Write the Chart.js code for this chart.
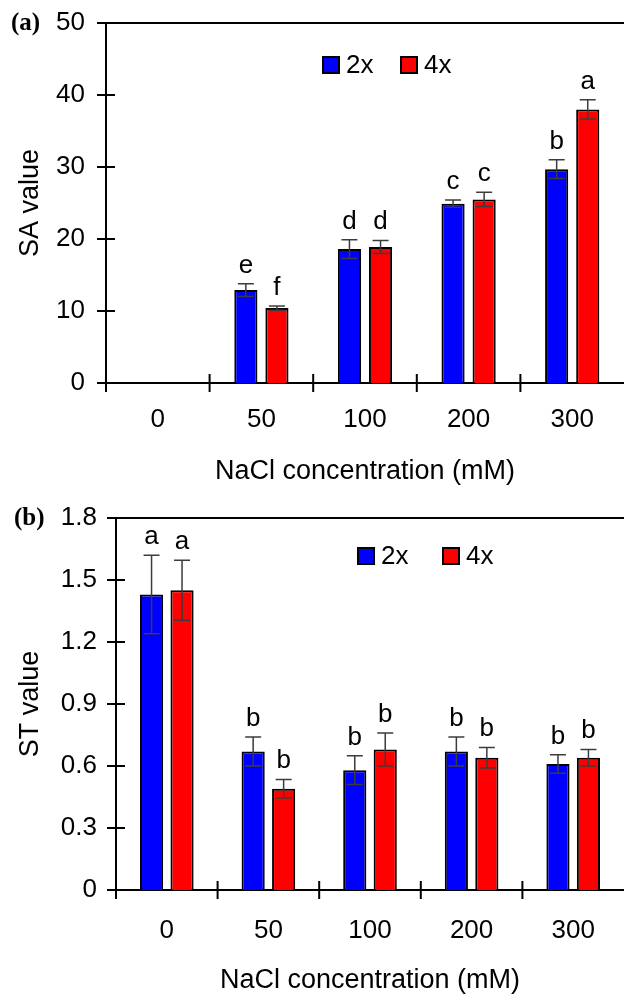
<!DOCTYPE html>
<html>
<head>
<meta charset="utf-8">
<script src="https://cdn.jsdelivr.net/npm/chart.js@4.4.1/dist/chart.umd.min.js"></script>
<style>
    html, body { margin: 0; padding: 0; background: #fff; }
    canvas { display: block; }
</style>
</head>
<body>
<canvas id="chartSA" width="624" height="496"></canvas>
<canvas id="chartST" width="624" height="498"></canvas>
<script>
// NaCl treatments (mM) and ploidy series
const concentrations = ['0', '50', '100', '200', '300'];
const seriesNames = ['2x', '4x'];
const seriesColors = ['#0000ff', '#ff0000'];

// (a) SA value
const saTicks = [0, 10, 20, 30, 40, 50];
const sa2x = [null, 12.9, 18.6, 24.9, 29.7];
const sa2xErr = [null, 0.9, 1.3, 0.5, 1.3];
const sa4x = [null, 10.4, 18.9, 25.5, 38.0];
const sa4xErr = [null, 0.3, 0.9, 1.0, 1.35];
const sa2xLetters = ['', 'e', 'd', 'c', 'b'];
const sa4xLetters = ['', 'f', 'd', 'c', 'a'];

// (b) ST value
const stTicks = [0, 0.3, 0.6, 0.9, 1.2, 1.5, 1.8];
const st2x = [1.43, 0.67, 0.58, 0.67, 0.61];
const st2xErr = [0.19, 0.07, 0.07, 0.07, 0.045];
const st4x = [1.45, 0.49, 0.68, 0.64, 0.64];
const st4xErr = [0.145, 0.045, 0.08, 0.05, 0.04];
const st2xLetters = ['a', 'b', 'b', 'b', 'b'];
const st4xLetters = ['a', 'b', 'b', 'b', 'b'];

Chart.defaults.font.family = "'Liberation Sans', Arial, sans-serif";
Chart.defaults.color = '#000';

// Error bars, letters, crossing ticks, top frame, legend and panel tag
const panelDecor = {
    id: 'panelDecor',
    afterDraw(chart, args, opts) {
        const {ctx, chartArea, scales} = chart;
        const xs = scales.x;
        const ys = scales.y;
        ctx.save();

        // error bars
        ctx.strokeStyle = '#3c3c3c';
        ctx.lineWidth = 1.5;
        chart.data.datasets.forEach((ds, di) => {
            const meta = chart.getDatasetMeta(di);
            const errs = opts.errors[di];
            ds.data.forEach((v, j) => {
                if (v === null || errs[j] === null) return;
                const bx = meta.data[j].x;
                const yTop = ys.getPixelForValue(v + errs[j]);
                const yBot = ys.getPixelForValue(v - errs[j]);
                ctx.beginPath();
                ctx.moveTo(bx, yTop);
                ctx.lineTo(bx, yBot);
                ctx.moveTo(bx - 8, yTop);
                ctx.lineTo(bx + 8, yTop);
                ctx.moveTo(bx - 8, yBot);
                ctx.lineTo(bx + 8, yBot);
                ctx.stroke();
            });
        });

        // significance letters
        ctx.fillStyle = '#000';
        ctx.font = "26px 'Liberation Sans', Arial, sans-serif";
        ctx.textAlign = 'center';
        ctx.textBaseline = 'alphabetic';
        chart.data.datasets.forEach((ds, di) => {
            const meta = chart.getDatasetMeta(di);
            const errs = opts.errors[di];
            const letters = opts.letters[di];
            ds.data.forEach((v, j) => {
                if (v === null || !letters[j]) return;
                const yTop = ys.getPixelForValue(v + errs[j]);
                ctx.fillText(letters[j], meta.data[j].x, yTop - 11);
            });
        });

        // top frame line
        ctx.strokeStyle = '#000';
        ctx.lineWidth = 2;
        ctx.beginPath();
        ctx.moveTo(chartArea.left, chartArea.top);
        ctx.lineTo(chartArea.right, chartArea.top);
        ctx.stroke();

        // y ticks crossing the axis
        ctx.beginPath();
        ys.ticks.forEach(t => {
            const py = ys.getPixelForValue(t.value);
            ctx.moveTo(chartArea.left - 9, py);
            ctx.lineTo(chartArea.left + 9, py);
        });
        // x ticks at category boundaries
        const half = (xs.getPixelForValue(1) - xs.getPixelForValue(0)) / 2;
        for (let i = 0; i < concentrations.length; i++) {
            const px = xs.getPixelForValue(i) - half;
            ctx.moveTo(px, chartArea.bottom - 9);
            ctx.lineTo(px, chartArea.bottom + 9);
        }
        ctx.stroke();

        // legend inside the plot
        ctx.font = "26px 'Liberation Sans', Arial, sans-serif";
        ctx.textAlign = 'left';
        ctx.textBaseline = 'middle';
        ctx.lineWidth = 2;
        chart.data.datasets.forEach((ds, di) => {
            const lx = chartArea.left + opts.legendX[di];
            const ly = chartArea.top + opts.legendY;
            ctx.fillStyle = ds.backgroundColor;
            ctx.fillRect(lx, ly, 16, 16);
            ctx.strokeStyle = '#000';
            ctx.strokeRect(lx, ly, 16, 16);
            ctx.fillStyle = '#000';
            ctx.fillText(ds.label, lx + 23, ly + 9);
        });

        // panel tag
        ctx.font = "bold 25px 'Liberation Serif', 'Times New Roman', serif";
        ctx.fillText(opts.tag.text, opts.tag.x, opts.tag.y);
        ctx.restore();
    }
};

function createPanelChart(canvasId, cfg) {
    const ctx = document.getElementById(canvasId).getContext('2d');
    return new Chart(ctx, {
        type: 'bar',
        data: {
            labels: concentrations,
            datasets: cfg.values.map((vals, i) => ({
                label: seriesNames[i],
                data: vals,
                backgroundColor: seriesColors[i],
                borderColor: '#000',
                borderWidth: 2,
                categoryPercentage: cfg.catPct,
                barPercentage: cfg.barPct
            }))
        },
        plugins: [panelDecor],
        options: {
            responsive: false,
            animation: false,
            devicePixelRatio: 1,
            layout: { padding: { top: cfg.padTop, left: 0, right: 0, bottom: 0 } },
            plugins: {
                legend: { display: false },
                tooltip: { enabled: false },
                panelDecor: {
                    errors: cfg.errors,
                    letters: cfg.letters,
                    legendX: cfg.legendX,
                    legendY: cfg.legendY,
                    tag: cfg.tag
                }
            },
            scales: {
                x: {
                    grid: { display: false, drawTicks: false },
                    border: { display: true, color: '#000', width: 2 },
                    ticks: {
                        font: { size: 26 },
                        color: '#000',
                        padding: cfg.xLabelPad,
                        maxRotation: 0,
                        autoSkip: false
                    },
                    title: {
                        display: true,
                        text: 'NaCl concentration (mM)',
                        color: '#000',
                        font: { size: 27, lineHeight: 1 },
                        padding: { top: 0, bottom: cfg.xTitlePad }
                    },
                    afterFit: (scale) => { scale.height = cfg.xHeight; }
                },
                y: {
                    min: cfg.ticks[0],
                    max: cfg.ticks[cfg.ticks.length - 1],
                    grid: { display: false, drawTicks: false },
                    border: { display: true, color: '#000', width: 2 },
                    afterBuildTicks: (scale) => {
                        scale.ticks = cfg.ticks.map(v => ({ value: v }));
                    },
                    ticks: {
                        font: { size: 26 },
                        color: '#000',
                        padding: cfg.yLabelPad,
                        callback: (v) => v === 0 ? '0' : cfg.fmt(v)
                    },
                    title: {
                        display: true,
                        text: cfg.yTitle,
                        color: '#000',
                        font: { size: 27, lineHeight: 1 },
                        padding: { top: 17, bottom: 0 }
                    },
                    // fixed axis width, and no extra room reserved for the end labels
                    afterFit: (scale) => {
                        scale.width = cfg.yWidth;
                        scale.paddingTop = 0;
                        scale.paddingBottom = 0;
                    }
                }
            }
        }
    });
}

createPanelChart('chartSA', {
    values: [sa2x, sa4x],
    errors: [sa2xErr, sa4xErr],
    letters: [sa2xLetters, sa4xLetters],
    ticks: saTicks,
    fmt: (v) => String(v),
    yTitle: 'SA value',
    catPct: 0.6,
    barPct: 0.745,
    padTop: 23,
    xHeight: 113,
    yWidth: 106,
    xLabelPad: 21,
    xTitlePad: 11,
    yLabelPad: 21,
    legendX: [217, 295],
    legendY: 34,
    tag: { text: '(a)', x: 11, y: 24 }
});

createPanelChart('chartST', {
    values: [st2x, st4x],
    errors: [st2xErr, st4xErr],
    letters: [st2xLetters, st4xLetters],
    ticks: stTicks,
    fmt: (v) => v.toFixed(1),
    yTitle: 'ST value',
    catPct: 0.6,
    barPct: 0.76,
    padTop: 22,
    xHeight: 104,
    yWidth: 116,
    xLabelPad: 25,
    xTitlePad: 0,
    yLabelPad: 19,
    legendX: [242, 327],
    legendY: 30,
    tag: { text: '(b)', x: 14, y: 23 }
});
</script>
</body>
</html>
